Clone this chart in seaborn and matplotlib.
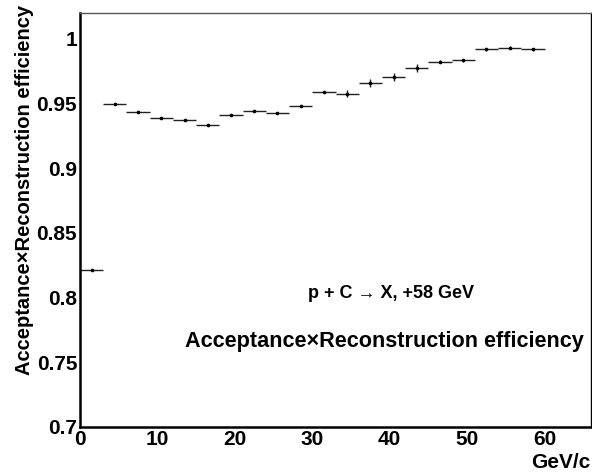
import numpy as np
import pandas as pd
import matplotlib
matplotlib.use("Agg")
import matplotlib.pyplot as plt
import seaborn as sns
from matplotlib.ticker import MultipleLocator, FuncFormatter

# ---- data ----
bin_centers = [1.5, 4.5, 7.5, 10.5, 13.5, 16.5, 19.5, 22.5, 25.5, 28.5,
               31.5, 34.5, 37.5, 40.5, 43.5, 46.5, 49.5, 52.5, 55.5, 58.5]
efficiency = [0.821, 0.950, 0.9433, 0.9387, 0.9371, 0.9332, 0.9415, 0.9443, 0.9425, 0.9479,
              0.959, 0.9577, 0.9657, 0.9706, 0.9773, 0.9825, 0.9835, 0.992, 0.9933, 0.9918]
eff_err = [0.0008, 0.0008, 0.0008, 0.0008, 0.0008, 0.0008, 0.0008, 0.0008, 0.0008, 0.0008,
           0.001, 0.0028, 0.003, 0.0033, 0.003, 0.0012, 0.001, 0.001, 0.001, 0.001]
bin_half_width = 1.5
x_label = "GeV/c"
y_label = "Acceptance\u00d7Reconstruction efficiency"
text_reaction = "p + C \u2192 X, +58 GeV"
text_title = "Acceptance\u00d7Reconstruction efficiency"
x_ticks = [0, 10, 20, 30, 40, 50, 60]

df = pd.DataFrame({"p": bin_centers, "eff": efficiency, "err": eff_err})

sns.set_theme(style="white")
plt.rcParams["font.family"] = ["Liberation Sans", "DejaVu Sans"]
plt.rcParams["font.weight"] = "bold"
plt.rcParams["text.color"] = "black"

fig = plt.figure(figsize=(5.92, 4.72), dpi=100)
ax = fig.add_axes([80/592, 45/472, 511/592, 414/472])

ax.errorbar(df["p"], df["eff"], xerr=bin_half_width, yerr=df["err"], fmt="none",
            ecolor="#222222", elinewidth=1.0, capsize=0)
sns.scatterplot(data=df, x="p", y="eff", ax=ax, color="black", s=7,
                edgecolor="black", linewidth=0, zorder=5, legend=False)

ax.set_xlim(0, 66)
ax.set_ylim(0.7, 1.02)

ax.set_xticks(x_ticks)
ax.xaxis.set_minor_locator(MultipleLocator(2))
ax.yaxis.set_major_locator(MultipleLocator(0.05))
ax.yaxis.set_minor_locator(MultipleLocator(0.01))

def yfmt(v, pos):
    return ("%.2f" % v).rstrip("0").rstrip(".")
ax.yaxis.set_major_formatter(FuncFormatter(yfmt))

ax.tick_params(axis="x", which="major", direction="in", length=9, width=1,
               labelsize=15, pad=2, colors="black")
ax.tick_params(axis="x", which="minor", direction="in", length=4.5, width=1, colors="black")
ax.tick_params(axis="y", which="major", direction="in", length=6.5, width=1,
               labelsize=15, pad=2, colors="black")
ax.tick_params(axis="y", which="minor", direction="in", length=4, width=1, colors="black")
for lbl in ax.get_xticklabels() + ax.get_yticklabels():
    lbl.set_fontweight("bold")

for side in ["left", "bottom"]:
    ax.spines[side].set_linewidth(1.8)
    ax.spines[side].set_color("black")
ax.spines["top"].set_linewidth(1)
ax.spines["top"].set_color("#555555")
ax.spines["right"].set_linewidth(1)
ax.spines["right"].set_color("black")

ax.set_xlabel("")
ax.set_ylabel("")
fig.text(590/592, 1 - 462/472, x_label, ha="right", va="center",
         fontsize=15, fontweight="bold", color="black")
fig.text(25/592, 1 - 5/472, y_label, ha="center", va="top", rotation=90,
         fontsize=14.5, fontweight="bold", color="black")

fig.text(308/592, 1 - 293/472, text_reaction, ha="left", va="center",
         fontsize=13, fontweight="bold", color="black")
fig.text(185/592, 1 - 341/472, text_title, ha="left", va="center",
         fontsize=15.6, fontweight="bold", color="black")

fig.savefig("out.png", dpi=100)
